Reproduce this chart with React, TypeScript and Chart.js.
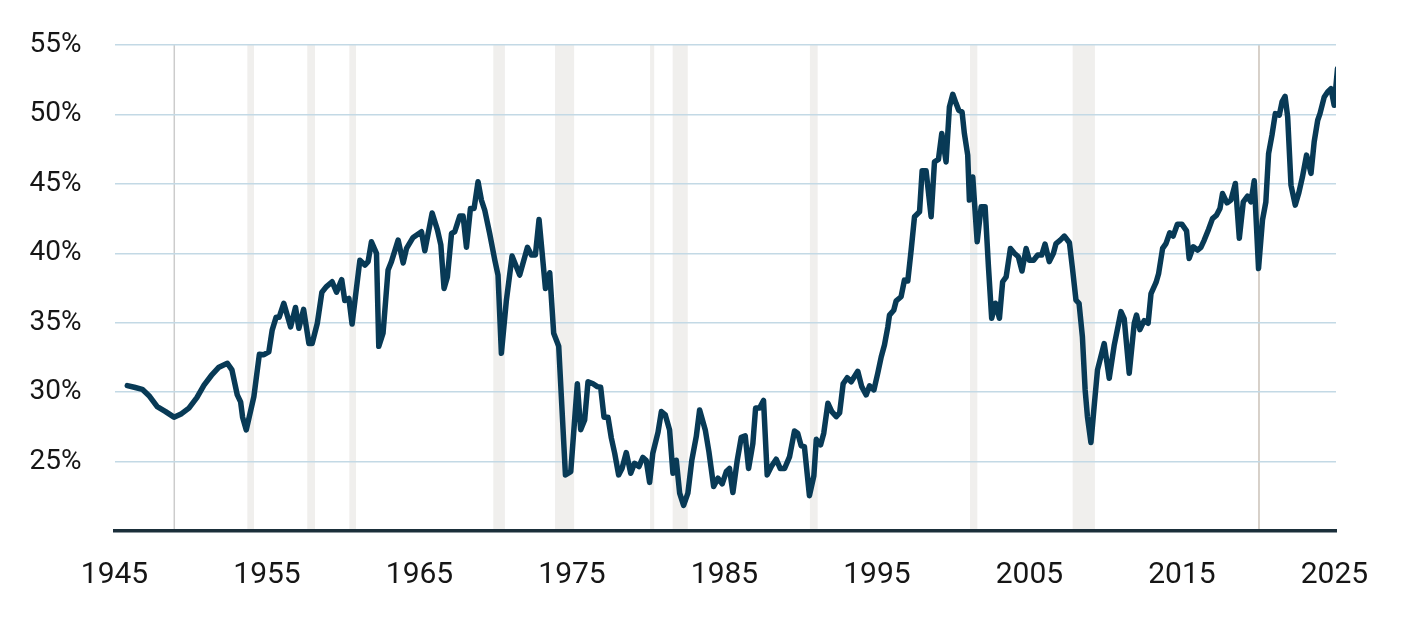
import React, { useEffect, useRef } from "react";
import { Chart, registerables } from "chart.js";

Chart.register(...registerables);

// ---- Data ----
const years = [
  1945.84, 1946.3, 1946.82, 1947.3, 1947.8, 1948.35, 1948.9, 1949.4, 1949.88, 1950.4,
  1950.87, 1951.35, 1951.85, 1952.4, 1952.7, 1953.05,
  1953.27, 1953.4, 1953.64, 1954.14, 1954.5, 1954.8, 1955.12, 1955.34, 1955.6, 1955.8,
  1956.1, 1956.55, 1956.87, 1957.09, 1957.4, 1957.75, 1957.96, 1958.3, 1958.6, 1958.9,
  1959.27, 1959.56, 1959.9, 1960.1, 1960.37, 1960.58, 1961.09, 1961.42, 1961.63, 1961.85,
  1962.18, 1962.33, 1962.61, 1962.94, 1963.16, 1963.6, 1963.93, 1964.15, 1964.58, 1965.13,
  1965.35, 1965.83, 1966.18, 1966.4, 1966.61, 1966.83, 1967.1, 1967.31, 1967.64, 1967.86,
  1968.08, 1968.34, 1968.58, 1968.84, 1969.06, 1969.28, 1969.6, 1969.94, 1970.15, 1970.37,
  1970.7, 1971.07, 1971.57, 1972.08, 1972.34, 1972.6, 1972.84, 1973.26, 1973.54, 1973.8,
  1974.13, 1974.57, 1974.92, 1975.35, 1975.57, 1975.83, 1976.05, 1976.38, 1976.66, 1976.88,
  1977.1, 1977.36, 1977.58, 1977.8, 1978.06, 1978.28, 1978.56, 1978.85, 1979.1, 1979.39,
  1979.65, 1979.87, 1980.09, 1980.3, 1980.64, 1980.86, 1981.12, 1981.4, 1981.62, 1981.84,
  1982.06, 1982.32, 1982.6, 1982.86, 1983.15, 1983.37, 1983.74, 1983.98, 1984.29, 1984.57,
  1984.85, 1985.12, 1985.33, 1985.55, 1985.84, 1986.1, 1986.36, 1986.58, 1986.86, 1987.04,
  1987.3, 1987.56, 1987.8, 1988.07, 1988.39, 1988.66, 1988.94, 1989.27, 1989.59, 1989.8,
  1990.03, 1990.24, 1990.57, 1990.86, 1991.02, 1991.3, 1991.51, 1991.78, 1992.04, 1992.33,
  1992.55, 1992.78, 1993.05, 1993.31, 1993.74, 1994.0, 1994.29, 1994.51, 1994.8, 1995.05,
  1995.28, 1995.49, 1995.71, 1995.82, 1996.1, 1996.26, 1996.58, 1996.8, 1997.02, 1997.24,
  1997.46, 1997.79, 1997.96, 1998.22, 1998.55, 1998.77, 1999.03, 1999.25, 1999.53, 1999.75,
  1999.97, 2000.19, 2000.36, 2000.58, 2000.73, 2000.95, 2001.06, 2001.28, 2001.57, 2001.83,
  2002.09, 2002.31, 2002.52, 2002.77, 2003.03, 2003.24, 2003.47, 2003.75, 2004.01, 2004.27,
  2004.51, 2004.78, 2004.99, 2005.27, 2005.54, 2005.8, 2006.02, 2006.3, 2006.57, 2006.74,
  2007.02, 2007.29, 2007.62, 2007.83, 2008.05, 2008.25, 2008.47, 2008.65, 2008.8, 2009.03,
  2009.24, 2009.46, 2009.68, 2009.9, 2010.23, 2010.56, 2011.0, 2011.21, 2011.54, 2011.87,
  2012.02, 2012.24, 2012.52, 2012.78, 2012.97, 2013.3, 2013.47, 2013.73, 2013.95, 2014.2,
  2014.42, 2014.7, 2014.99, 2015.3, 2015.47, 2015.74, 2016.02, 2016.24, 2016.46, 2016.74,
  2017.0, 2017.27, 2017.49, 2017.66, 2017.95, 2018.21, 2018.5, 2018.76, 2019.02, 2019.3,
  2019.52, 2019.74, 2020.02, 2020.28, 2020.5, 2020.68, 2020.9, 2021.12, 2021.38, 2021.56,
  2021.76, 2021.93, 2022.15, 2022.43, 2022.65, 2022.9, 2023.17, 2023.46, 2023.67, 2023.9,
  2024.05, 2024.33, 2024.55, 2024.77, 2024.98, 2025.2,
];

const shares = [
  30.47, 30.35, 30.2, 29.7, 28.96, 28.6, 28.2, 28.45, 28.85, 29.6,
  30.5, 31.2, 31.8, 32.08, 31.6, 29.8,
  29.3, 28.2, 27.28, 29.68, 32.73, 32.7, 32.9, 34.47, 35.4, 35.4,
  36.4, 34.7, 36.1, 34.6, 35.96, 33.5, 33.5, 34.96, 37.2, 37.6,
  37.95, 37.2, 38.1, 36.6, 36.75, 34.9, 39.5, 39.15, 39.4, 40.83,
  40.0, 33.3, 34.24, 38.8, 39.4, 40.95, 39.3, 40.35, 41.14, 41.55,
  40.18, 42.9, 41.67, 40.6, 37.47, 38.3, 41.43, 41.55, 42.68, 42.68,
  40.43, 43.23, 43.23, 45.15, 43.83, 43.1, 41.43, 39.5, 38.43, 32.8,
  36.63, 39.8, 38.43, 40.43, 39.87, 39.87, 42.44, 37.47, 38.6, 34.24,
  33.3, 24.04, 24.28, 30.6, 27.3, 28.0, 30.75, 30.6, 30.4, 30.35,
  28.2, 28.2, 26.7, 25.6, 24.04, 24.5, 25.65, 24.16, 24.88, 24.64,
  25.3, 25.07, 23.5, 25.6, 27.1, 28.6, 28.36, 27.28, 24.16, 25.1,
  22.73, 21.84, 22.73, 25.12, 26.8, 28.72, 27.28, 25.7, 23.2, 23.8,
  23.4, 24.28, 24.5, 22.77, 25.12, 26.75, 26.85, 24.5, 26.3, 28.85,
  28.85, 29.4, 24.04, 24.64, 25.17, 24.5, 24.5, 25.36, 27.2, 27.04,
  26.13, 26.08, 22.54, 23.97, 26.6, 26.2, 27.04, 29.2, 28.6, 28.24,
  28.5, 30.6, 31.04, 30.75, 31.5, 30.4, 29.8, 30.45, 30.16, 31.36,
  32.55, 33.4, 34.7, 35.55, 35.9, 36.58, 36.87, 38.07, 38.0, 40.23,
  42.63, 42.99, 45.94, 45.94, 42.63, 46.58, 46.76, 48.63, 46.58, 50.54,
  51.45, 50.78, 50.3, 50.18, 48.63, 47.07, 43.83, 45.5, 40.83, 43.35,
  43.35, 39.03, 35.32, 36.4, 35.32, 37.95, 38.3, 40.35, 40.0, 39.75,
  38.72, 40.35, 39.5, 39.5, 39.87, 39.87, 40.66, 39.4, 40.0, 40.7,
  40.95, 41.24, 40.76, 38.8, 36.63, 36.4, 34.0, 30.16, 28.24, 26.37,
  28.96, 31.6, 32.55, 33.5, 31.0, 33.4, 35.8, 35.3, 31.36, 34.96,
  35.55, 34.5, 35.15, 34.96, 37.1, 37.9, 38.55, 40.35, 40.7, 41.48,
  41.24, 42.1, 42.1, 41.62, 39.63, 40.47, 40.23, 40.43, 40.95, 41.72,
  42.5, 42.75, 43.23, 44.3, 43.63, 43.83, 45.03, 41.08, 43.7, 44.11,
  43.7, 45.22, 38.9, 42.4, 43.7, 47.19, 48.5, 50.06, 49.94, 50.9,
  51.3, 49.82, 44.9, 43.47, 44.3, 45.5, 47.07, 45.75, 48.03, 49.58,
  50.06, 51.26, 51.62, 51.86, 50.66, 53.3,
];

const xTickYears = [1945, 1955, 1965, 1975, 1985, 1995, 2005, 2015, 2025];
const yTickValues = [25, 30, 35, 40, 45, 50, 55];

const recessionStarts = [1953.71, 1957.64, 1960.4, 1969.84, 1973.89, 1980.12, 1981.6, 1990.6, 2001.1, 2007.83];
const recessionEnds = [1954.15, 1958.15, 1960.84, 1970.6, 1975.14, 1980.39, 1982.59, 1991.11, 2001.58, 2009.29];
const markerYears = [1948.92, 2020.05];

// ---- Styles ----
const LINE_COLOR = "#083a56";
const GRID_COLOR = "#c3d9e5";
const BAND_COLOR = "#f0efed";
const MARKER_COLORS = ["#cccccc", "#cbc2b8"];
const AXIS_COLOR = "#1b2f3a";
const TEXT_COLOR = "#161616";
const FONT_FAMILY = "Roboto, 'Noto Sans', sans-serif";

const bandsPlugin = {
  id: "recessionBands",
  beforeDraw(chart: any) {
    const { ctx, chartArea, scales } = chart;
    const xs = scales.x;
    ctx.save();
    ctx.beginPath();
    ctx.rect(chartArea.left, chartArea.top, chartArea.right - chartArea.left, chartArea.bottom - chartArea.top);
    ctx.clip();
    ctx.fillStyle = BAND_COLOR;
    recessionStarts.forEach((s, i) => {
      const x0 = xs.getPixelForValue(s);
      const x1 = xs.getPixelForValue(recessionEnds[i]);
      ctx.fillRect(x0, chartArea.top, x1 - x0, chartArea.bottom - chartArea.top);
    });
    markerYears.forEach((m, i) => {
      const x = xs.getPixelForValue(m);
      ctx.strokeStyle = MARKER_COLORS[i];
      ctx.lineWidth = 1.5;
      ctx.beginPath();
      ctx.moveTo(x, chartArea.top);
      ctx.lineTo(x, chartArea.bottom);
      ctx.stroke();
    });
    ctx.restore();
  },
};

export default function App() {
  const canvasRef = useRef<HTMLCanvasElement | null>(null);

  useEffect(() => {
    if (!canvasRef.current) return;
    const chart = new Chart(canvasRef.current, {
      type: "line",
      data: {
        datasets: [
          {
            data: years.map((y, i) => ({ x: y, y: shares[i] })),
            borderColor: LINE_COLOR,
            borderWidth: 5.5,
            pointRadius: 0,
            tension: 0,
            borderJoinStyle: "round",
            borderCapStyle: "round",
            fill: false,
          },
        ],
      },
      options: {
        animation: false,
        responsive: true,
        maintainAspectRatio: false,
        layout: { padding: { top: 45, right: 68, left: 0, bottom: 0 } },
        plugins: { legend: { display: false }, tooltip: { enabled: false } },
        scales: {
          x: {
            type: "linear",
            min: 1945,
            max: 2025.1,
            afterBuildTicks: (scale: any) => {
              scale.ticks = xTickYears.map((v) => ({ value: v }));
            },
            afterFit: (scale: any) => {
              scale.height = 91;
              scale.paddingLeft = 0;
              scale.paddingRight = 0;
            },
            grid: { display: false, drawTicks: false },
            border: { display: true, color: AXIS_COLOR, width: 3.5 },
            ticks: {
              autoSkip: false,
              maxRotation: 0,
              padding: 26,
              color: TEXT_COLOR,
              font: { family: FONT_FAMILY, size: 30 },
              callback: (v: any) => String(v),
            },
          },
          y: {
            type: "linear",
            min: 20,
            max: 55,
            afterBuildTicks: (scale: any) => {
              scale.ticks = yTickValues.map((v) => ({ value: v }));
            },
            afterFit: (scale: any) => {
              scale.width = 114.5;
              scale.paddingTop = 0;
              scale.paddingBottom = 0;
            },
            grid: { color: GRID_COLOR, lineWidth: 1.5, drawTicks: false },
            border: { display: false },
            ticks: {
              padding: 33,
              color: TEXT_COLOR,
              font: { family: FONT_FAMILY, size: 28 },
              callback: (v: any) => `${v}%`,
            },
          },
        },
      },
      plugins: [bandsPlugin],
    });
    return () => chart.destroy();
  }, []);

  return (
    <div style={{ position: "absolute", left: 0, top: 0, width: 1404, height: 622, background: "#fff" }}>
      <canvas ref={canvasRef} />
    </div>
  );
}
